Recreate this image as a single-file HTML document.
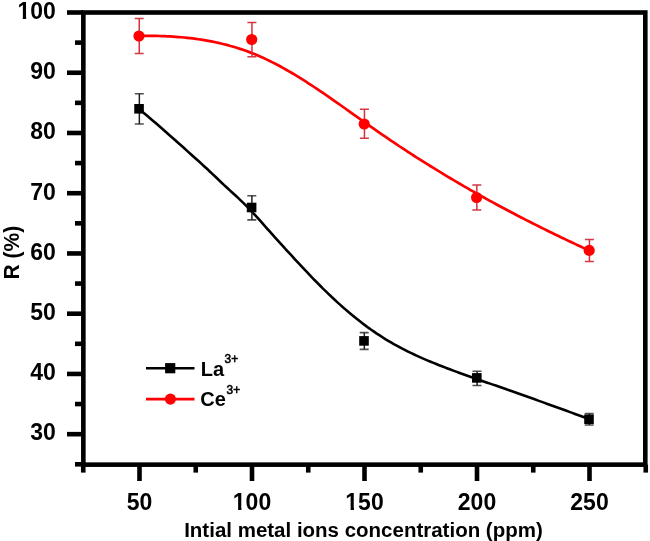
<!DOCTYPE html>
<html><head><meta charset="utf-8"><style>
html,body{margin:0;padding:0;background:#fff;width:650px;height:541px;overflow:hidden}
svg{display:block;will-change:transform}
text{font-family:"Liberation Sans",sans-serif;fill:#000;font-kerning:none;white-space:pre}
</style></head><body>
<svg width="650" height="541" viewBox="0 0 650 541">
<rect x="83.35" y="12.5" width="561.9499999999999" height="452.15" fill="none" stroke="#000" stroke-width="4.6"/>
<line x1="75" y1="464.30" x2="83.35" y2="464.30" stroke="#000" stroke-width="4.6"/>
<line x1="67" y1="434.18" x2="83.35" y2="434.18" stroke="#000" stroke-width="4.6"/>
<line x1="75" y1="404.06" x2="83.35" y2="404.06" stroke="#000" stroke-width="4.6"/>
<line x1="67" y1="373.94" x2="83.35" y2="373.94" stroke="#000" stroke-width="4.6"/>
<line x1="75" y1="343.82" x2="83.35" y2="343.82" stroke="#000" stroke-width="4.6"/>
<line x1="67" y1="313.70" x2="83.35" y2="313.70" stroke="#000" stroke-width="4.6"/>
<line x1="75" y1="283.58" x2="83.35" y2="283.58" stroke="#000" stroke-width="4.6"/>
<line x1="67" y1="253.46" x2="83.35" y2="253.46" stroke="#000" stroke-width="4.6"/>
<line x1="75" y1="223.34" x2="83.35" y2="223.34" stroke="#000" stroke-width="4.6"/>
<line x1="67" y1="193.22" x2="83.35" y2="193.22" stroke="#000" stroke-width="4.6"/>
<line x1="75" y1="163.10" x2="83.35" y2="163.10" stroke="#000" stroke-width="4.6"/>
<line x1="67" y1="132.98" x2="83.35" y2="132.98" stroke="#000" stroke-width="4.6"/>
<line x1="75" y1="102.86" x2="83.35" y2="102.86" stroke="#000" stroke-width="4.6"/>
<line x1="67" y1="72.74" x2="83.35" y2="72.74" stroke="#000" stroke-width="4.6"/>
<line x1="75" y1="42.62" x2="83.35" y2="42.62" stroke="#000" stroke-width="4.6"/>
<line x1="67" y1="12.50" x2="83.35" y2="12.50" stroke="#000" stroke-width="4.6"/>
<line x1="83.25" y1="464.65" x2="83.25" y2="472.6" stroke="#000" stroke-width="4.6"/>
<line x1="139.50" y1="464.65" x2="139.50" y2="481" stroke="#000" stroke-width="4.6"/>
<line x1="195.75" y1="464.65" x2="195.75" y2="472.6" stroke="#000" stroke-width="4.6"/>
<line x1="252.00" y1="464.65" x2="252.00" y2="481" stroke="#000" stroke-width="4.6"/>
<line x1="308.25" y1="464.65" x2="308.25" y2="472.6" stroke="#000" stroke-width="4.6"/>
<line x1="364.50" y1="464.65" x2="364.50" y2="481" stroke="#000" stroke-width="4.6"/>
<line x1="420.75" y1="464.65" x2="420.75" y2="472.6" stroke="#000" stroke-width="4.6"/>
<line x1="477.00" y1="464.65" x2="477.00" y2="481" stroke="#000" stroke-width="4.6"/>
<line x1="533.25" y1="464.65" x2="533.25" y2="472.6" stroke="#000" stroke-width="4.6"/>
<line x1="589.50" y1="464.65" x2="589.50" y2="481" stroke="#000" stroke-width="4.6"/>
<line x1="645.75" y1="464.65" x2="645.75" y2="472.6" stroke="#000" stroke-width="4.6"/>
<g fill="#000"><text transform="translate(30.32,440.48) scale(1.0000,1.0400)" font-size="23" font-weight="bold">30</text><text transform="translate(30.32,380.24) scale(1.0000,1.0400)" font-size="23" font-weight="bold">40</text><text transform="translate(30.32,320.00) scale(1.0000,1.0400)" font-size="23" font-weight="bold">50</text><text transform="translate(30.32,259.76) scale(1.0000,1.0400)" font-size="23" font-weight="bold">60</text><text transform="translate(30.32,199.52) scale(1.0000,1.0400)" font-size="23" font-weight="bold">70</text><text transform="translate(30.32,139.28) scale(1.0000,1.0400)" font-size="23" font-weight="bold">80</text><text transform="translate(30.32,79.04) scale(1.0000,1.0400)" font-size="23" font-weight="bold">90</text><text transform="translate(17.53,18.80) scale(1.0000,1.0400)" font-size="23" font-weight="bold">100</text><rect x="18.20" y="15.83" width="4.60" height="4.47" fill="#fff"/><rect x="26.14" y="15.83" width="4.30" height="4.47" fill="#fff"/><text transform="translate(126.71,509.80) scale(1.0000,1.0400)" font-size="23" font-weight="bold">50</text><text transform="translate(232.81,509.80) scale(1.0000,1.0400)" font-size="23" font-weight="bold">100</text><rect x="233.49" y="506.83" width="4.60" height="4.47" fill="#fff"/><rect x="241.43" y="506.83" width="4.30" height="4.47" fill="#fff"/><text transform="translate(345.31,509.80) scale(1.0000,1.0400)" font-size="23" font-weight="bold">150</text><rect x="345.99" y="506.83" width="4.60" height="4.47" fill="#fff"/><rect x="353.93" y="506.83" width="4.30" height="4.47" fill="#fff"/><text transform="translate(457.81,509.80) scale(1.0000,1.0400)" font-size="23" font-weight="bold">200</text><text transform="translate(570.31,509.80) scale(1.0000,1.0400)" font-size="23" font-weight="bold">250</text></g>
<g fill="#000"><text transform="translate(184.15,537.00) scale(1.0100,1.0400)" font-size="20.3" font-weight="bold">Intial metal ions concentration (ppm)</text><g transform="translate(18.8,279.4) rotate(-90)"><text transform="translate(0.00,0.00) scale(1.0000,1.0400)" font-size="21" font-weight="bold">R (%)</text></g></g>
<path d="M139.0,35.93 L141.8,35.90 L144.7,35.88 L147.5,35.87 L150.3,35.89 L153.2,35.92 L156.0,35.96 L158.8,36.02 L161.6,36.11 L164.5,36.21 L167.3,36.33 L170.1,36.47 L173.0,36.63 L175.8,36.82 L178.6,37.03 L181.5,37.26 L184.3,37.52 L187.1,37.81 L190.0,38.12 L192.8,38.45 L195.6,38.82 L198.4,39.22 L201.3,39.64 L204.1,40.09 L206.9,40.58 L209.8,41.10 L212.6,41.65 L215.4,42.23 L218.3,42.85 L221.1,43.50 L223.9,44.19 L226.8,44.92 L229.6,45.68 L232.4,46.48 L235.2,47.32 L238.1,48.20 L240.9,49.12 L243.7,50.08 L246.6,51.09 L249.4,52.13 L252.2,53.22 L255.1,54.36 L257.9,55.54 L260.7,56.76 L263.6,58.03 L266.4,59.35 L269.2,60.71 L272.0,62.11 L274.9,63.56 L277.7,65.04 L280.5,66.56 L283.4,68.12 L286.2,69.71 L289.0,71.33 L291.9,72.99 L294.7,74.68 L297.5,76.40 L300.4,78.14 L303.2,79.92 L306.0,81.71 L308.8,83.54 L311.7,85.38 L314.5,87.25 L317.3,89.13 L320.2,91.04 L323.0,92.96 L325.8,94.89 L328.7,96.85 L331.5,98.81 L334.3,100.78 L337.2,102.77 L340.0,104.76 L342.8,106.76 L345.6,108.77 L348.5,110.78 L351.3,112.80 L354.1,114.81 L357.0,116.83 L359.8,118.85 L362.6,120.86 L365.5,122.87 L368.3,124.87 L371.1,126.87 L374.0,128.86 L376.8,130.84 L379.6,132.81 L382.5,134.77 L385.3,136.71 L388.1,138.64 L390.9,140.56 L393.8,142.47 L396.6,144.37 L399.4,146.25 L402.3,148.13 L405.1,149.99 L407.9,151.84 L410.8,153.68 L413.6,155.50 L416.4,157.32 L419.3,159.12 L422.1,160.92 L424.9,162.70 L427.7,164.47 L430.6,166.23 L433.4,167.98 L436.2,169.72 L439.1,171.45 L441.9,173.17 L444.7,174.87 L447.6,176.57 L450.4,178.26 L453.2,179.94 L456.1,181.60 L458.9,183.26 L461.7,184.91 L464.5,186.55 L467.4,188.18 L470.2,189.80 L473.0,191.41 L475.9,193.01 L478.7,194.60 L481.5,196.18 L484.4,197.75 L487.2,199.32 L490.0,200.87 L492.9,202.42 L495.7,203.96 L498.5,205.49 L501.3,207.01 L504.2,208.52 L507.0,210.02 L509.8,211.52 L512.7,213.01 L515.5,214.49 L518.3,215.96 L521.2,217.43 L524.0,218.88 L526.8,220.33 L529.7,221.77 L532.5,223.21 L535.3,224.64 L538.1,226.06 L541.0,227.47 L543.8,228.87 L546.6,230.27 L549.5,231.66 L552.3,233.05 L555.1,234.43 L558.0,235.80 L560.8,237.17 L563.6,238.52 L566.5,239.88 L569.3,241.22 L572.1,242.56 L574.9,243.90 L577.8,245.23 L580.6,246.55 L583.4,247.87 L586.3,249.18 L589.1,250.48" fill="none" stroke="#f00" stroke-width="2.7"/>
<path d="M139.0,108.90 L141.8,111.28 L144.7,113.66 L147.5,116.07 L150.3,118.48 L153.2,120.91 L156.0,123.35 L158.8,125.80 L161.7,128.26 L164.5,130.73 L167.3,133.22 L170.1,135.71 L173.0,138.21 L175.8,140.72 L178.6,143.24 L181.5,145.77 L184.3,148.31 L187.1,150.85 L190.0,153.40 L192.8,155.95 L195.6,158.51 L198.5,161.08 L201.3,163.65 L204.1,166.23 L207.0,168.83 L209.8,171.46 L212.6,174.12 L215.4,176.81 L218.3,179.50 L221.1,182.19 L223.9,184.86 L226.8,187.49 L229.6,190.09 L232.4,192.68 L235.3,195.27 L238.1,197.90 L240.9,200.58 L243.8,203.32 L246.6,206.15 L249.4,209.07 L252.3,212.07 L255.1,215.13 L257.9,218.24 L260.8,221.40 L263.6,224.58 L266.4,227.78 L269.2,230.98 L272.1,234.16 L274.9,237.33 L277.7,240.46 L280.6,243.57 L283.4,246.67 L286.2,249.76 L289.1,252.85 L291.9,255.93 L294.7,259.01 L297.6,262.08 L300.4,265.14 L303.2,268.17 L306.1,271.18 L308.9,274.17 L311.7,277.12 L314.5,280.04 L317.4,282.93 L320.2,285.78 L323.0,288.60 L325.9,291.37 L328.7,294.11 L331.5,296.81 L334.4,299.47 L337.2,302.08 L340.0,304.65 L342.9,307.17 L345.7,309.65 L348.5,312.08 L351.4,314.47 L354.2,316.80 L357.0,319.08 L359.9,321.31 L362.7,323.48 L365.5,325.61 L368.3,327.68 L371.2,329.70 L374.0,331.66 L376.8,333.58 L379.7,335.45 L382.5,337.27 L385.3,339.04 L388.2,340.77 L391.0,342.44 L393.8,344.07 L396.7,345.66 L399.5,347.20 L402.3,348.70 L405.2,350.15 L408.0,351.57 L410.8,352.95 L413.7,354.29 L416.5,355.60 L419.3,356.88 L422.1,358.14 L425.0,359.36 L427.8,360.57 L430.6,361.75 L433.5,362.91 L436.3,364.06 L439.1,365.18 L442.0,366.30 L444.8,367.39 L447.6,368.47 L450.5,369.54 L453.3,370.60 L456.1,371.64 L459.0,372.68 L461.8,373.70 L464.6,374.72 L467.4,375.73 L470.3,376.73 L473.1,377.73 L475.9,378.72 L478.8,379.70 L481.6,380.69 L484.4,381.67 L487.3,382.65 L490.1,383.63 L492.9,384.61 L495.8,385.60 L498.6,386.58 L501.4,387.57 L504.3,388.56 L507.1,389.55 L509.9,390.55 L512.8,391.55 L515.6,392.55 L518.4,393.55 L521.2,394.55 L524.1,395.56 L526.9,396.56 L529.7,397.57 L532.6,398.58 L535.4,399.59 L538.2,400.61 L541.1,401.62 L543.9,402.64 L546.7,403.66 L549.6,404.68 L552.4,405.70 L555.2,406.72 L558.1,407.75 L560.9,408.77 L563.7,409.80 L566.5,410.83 L569.4,411.86 L572.2,412.89 L575.0,413.92 L577.9,414.95 L580.7,415.98 L583.5,417.01 L586.4,418.05 L589.2,419.08" fill="none" stroke="#000" stroke-width="2.6"/>
<path d="M134.7,18.6 H143.7 M134.7,53.4 H143.7" stroke="#d23a44" stroke-width="1.5" fill="none"/>
<path d="M139.25,18.6 V53.4" stroke="#d8303a" stroke-width="1.5" fill="none"/>
<circle cx="139.0" cy="36.0" r="5.6" fill="#f00"/>
<path d="M247.4,22.5 H256.4 M247.4,56.8 H256.4" stroke="#d23a44" stroke-width="1.5" fill="none"/>
<path d="M251.95,22.5 V56.8" stroke="#d8303a" stroke-width="1.5" fill="none"/>
<circle cx="251.7" cy="39.5" r="5.6" fill="#f00"/>
<path d="M359.9,109.2 H368.9 M359.9,138.3 H368.9" stroke="#d23a44" stroke-width="1.5" fill="none"/>
<path d="M364.45,109.2 V138.3" stroke="#d8303a" stroke-width="1.5" fill="none"/>
<circle cx="364.2" cy="124.0" r="5.6" fill="#f00"/>
<path d="M472.3,184.9 H481.3 M472.3,210.1 H481.3" stroke="#d23a44" stroke-width="1.5" fill="none"/>
<path d="M476.85,184.9 V210.1" stroke="#d8303a" stroke-width="1.5" fill="none"/>
<circle cx="476.6" cy="197.5" r="5.6" fill="#f00"/>
<path d="M584.9,239.5 H593.9 M584.9,261.5 H593.9" stroke="#d23a44" stroke-width="1.5" fill="none"/>
<path d="M589.45,239.5 V261.5" stroke="#d8303a" stroke-width="1.5" fill="none"/>
<circle cx="589.2" cy="250.4" r="5.6" fill="#f00"/>
<path d="M134.8,93.8 H143.8 M134.8,124.0 H143.8" stroke="#505050" stroke-width="1.6" fill="none"/>
<path d="M139.35,93.8 V124.0" stroke="#222" stroke-width="1.5" fill="none"/>
<rect x="134.25" y="104.00" width="9.6" height="9.6" fill="#000"/>
<path d="M247.3,195.7 H256.3 M247.3,219.9 H256.3" stroke="#505050" stroke-width="1.6" fill="none"/>
<path d="M251.90,195.7 V219.9" stroke="#222" stroke-width="1.5" fill="none"/>
<rect x="246.80" y="202.70" width="9.6" height="9.6" fill="#000"/>
<path d="M359.7,332.6 H368.7 M359.7,349.4 H368.7" stroke="#505050" stroke-width="1.6" fill="none"/>
<path d="M364.30,332.6 V349.4" stroke="#222" stroke-width="1.5" fill="none"/>
<rect x="359.20" y="336.10" width="9.6" height="9.6" fill="#000"/>
<path d="M472.5,371.2 H481.5 M472.5,385.5 H481.5" stroke="#505050" stroke-width="1.6" fill="none"/>
<path d="M477.10,371.2 V385.5" stroke="#222" stroke-width="1.5" fill="none"/>
<rect x="472.00" y="373.10" width="9.6" height="9.6" fill="#000"/>
<path d="M584.7,413.5 H593.7 M584.7,425 H593.7" stroke="#505050" stroke-width="1.6" fill="none"/>
<path d="M589.30,413.5 V425" stroke="#222" stroke-width="1.5" fill="none"/>
<rect x="584.20" y="414.40" width="9.6" height="9.6" fill="#000"/>
<line x1="146" y1="368.3" x2="194.5" y2="368.3" stroke="#000" stroke-width="2.6"/>
<rect x="165.1" y="363.1" width="10.2" height="10.2" fill="#000"/>
<g fill="#000"><text transform="translate(200.76,375.80) scale(1.0000,1.0400)" font-size="20" font-weight="bold">La</text><text transform="translate(224.60,363.40) scale(1.0000,1.0400)" font-size="11.8" font-weight="normal" stroke="#000" stroke-width="0.58">3+</text></g>
<line x1="146" y1="399.2" x2="194.5" y2="399.2" stroke="#f00" stroke-width="2.8"/>
<circle cx="170.4" cy="399.1" r="5.6" fill="#f00"/>
<g fill="#000"><text transform="translate(200.20,406.10) scale(1.0000,1.0400)" font-size="20" font-weight="bold">Ce</text><text transform="translate(226.60,394.10) scale(1.0000,1.0400)" font-size="11.8" font-weight="normal" stroke="#000" stroke-width="0.58">3+</text></g>
</svg>
</body></html>
